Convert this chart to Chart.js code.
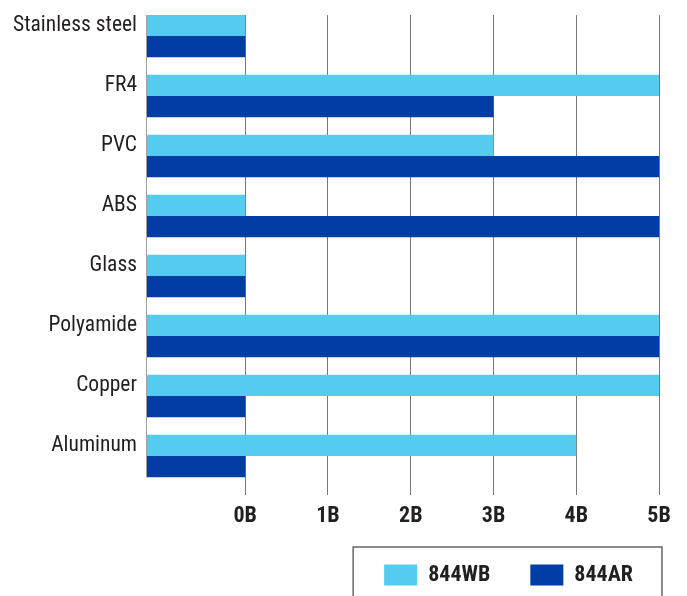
<!DOCTYPE html>
<html>
<head>
<meta charset="utf-8">
<script src="https://cdn.jsdelivr.net/npm/chart.js@4"></script>
<style>
html,body{margin:0;padding:0;background:#fff;}
#wrap{width:687px;height:596px;position:relative;}
</style>
</head>
<body>
<div id="wrap"><canvas id="c"></canvas></div>
<script>
const categories = ['Stainless steel', 'FR4', 'PVC', 'ABS', 'Glass', 'Polyamide', 'Copper', 'Aluminum'];
const seriesNames = ['844WB', '844AR'];
const values844WB = [0, 5, 3, 0, 0, 5, 5, 4];
const values844AR = [0, 3, 5, 5, 0, 5, 0, 0];
const xTickValues = [0, 1, 2, 3, 4, 5];
const xTickSuffix = 'B';
const X_MIN = -1.187;
const X_MAX = 5;

const FAM = "'Roboto Condensed', 'Liberation Sans Narrow', 'Arial Narrow', sans-serif";
const TEXT = '#231f20';
Chart.defaults.font.family = FAM;
Chart.defaults.color = TEXT;

const decor = {
  id: 'decor',
  afterDatasetsDraw(chart) {
    const {ctx, chartArea} = chart;
    const meta = chart.getDatasetMeta(chart.data.datasets.length - 1);
    const last = meta.data[meta.data.length - 1];
    const bottom = last.y + last.height / 2;
    ctx.save();
    ctx.strokeStyle = '#a0a0a0';
    ctx.lineWidth = 1;
    ctx.beginPath();
    ctx.moveTo(chartArea.left - 0.5, chartArea.top);
    ctx.lineTo(chartArea.left - 0.5, bottom);
    ctx.stroke();
    ctx.restore();
  },
  afterDraw(chart) {
    const hb = chart.legend && chart.legend.legendHitBoxes;
    if (!hb || !hb.length) return;
    const first = hb[0], lastH = hb[hb.length - 1];
    const left = first.left - 31;
    const right = lastH.left + lastH.width + 29;
    const top = first.top - 17;
    const ctx = chart.ctx;
    ctx.save();
    ctx.strokeStyle = '#666';
    ctx.lineWidth = 1.5;
    ctx.strokeRect(left, top, right - left, chart.height + 20 - top);
    ctx.restore();
  }
};

const mk = (vals) => vals.map((v, i) => ({x: v, y: i}));

new Chart(document.getElementById('c'), {
  type: 'bar',
  data: {
    datasets: [
      {label: seriesNames[0], data: mk(values844WB), backgroundColor: '#55cbf0', borderWidth: 0, base: X_MIN},
      {label: seriesNames[1], data: mk(values844AR), backgroundColor: '#003da5', borderWidth: 0, base: X_MIN}
    ]
  },
  options: {
    indexAxis: 'y',
    animation: false,
    responsive: true,
    maintainAspectRatio: false,
    layout: {padding: {top: 15, left: 0, right: 14, bottom: 0}},
    datasets: {bar: {barPercentage: 1, categoryPercentage: 0.71}},
    scales: {
      x: {
        type: 'linear',
        position: 'bottom',
        min: X_MIN,
        max: X_MAX,
        offset: false,
        afterBuildTicks: s => { s.ticks = xTickValues.map(v => ({value: v})); },
        afterFit: s => { s.height = 29; s.paddingRight = 28; s.paddingLeft = 0; },
        grid: {color: '#777', lineWidth: 1, drawTicks: false},
        border: {display: false},
        ticks: {
          padding: 8,
          autoSkip: false,
          maxRotation: 0,
          font: {size: 22, weight: 'bold'},
          color: TEXT,
          callback: v => v + xTickSuffix
        }
      },
      y: {
        type: 'linear',
        offset: false,
        min: -0.35,
        max: categories.length - 0.35,
        reverse: true,
        afterBuildTicks: s => { s.ticks = categories.map((_, i) => ({value: i})); },
        afterFit: s => { s.width = 147; s.paddingTop = 0; s.paddingBottom = 0; },
        grid: {display: false, drawTicks: false},
        border: {display: false},
        ticks: {
          padding: 10,
          labelOffset: -10,
          autoSkip: false,
          font: {size: 21.5},
          color: TEXT,
          callback: v => categories[v]
        }
      }
    },
    plugins: {
      legend: {
        position: 'bottom',
        align: 'end',
        labels: {boxWidth: 33, boxHeight: 21, padding: 40, font: {size: 22, weight: 'bold'}, color: TEXT}
      },
      tooltip: {enabled: false}
    }
  },
  plugins: [decor]
});
</script>
</body>
</html>
